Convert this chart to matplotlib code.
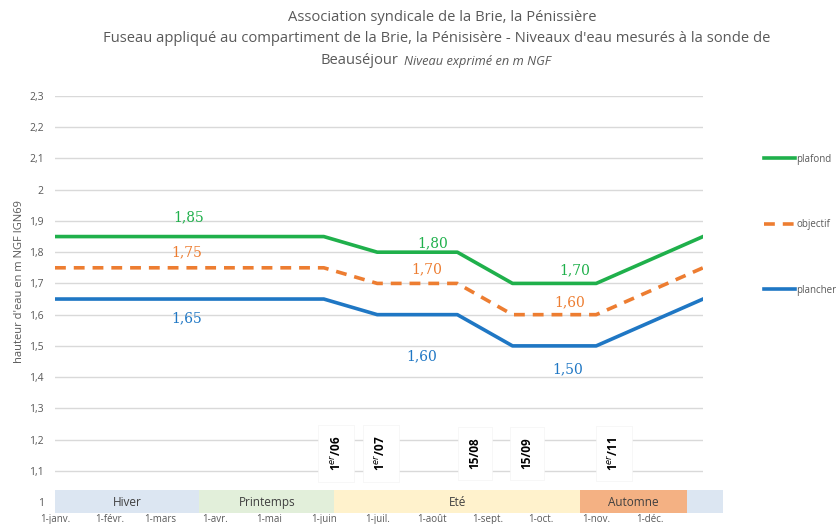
import matplotlib.pyplot as plt
import matplotlib.dates as mdates
from datetime import date

# Points de rupture du fuseau (année type)
dates = [date(2021, 1, 1), date(2021, 6, 1), date(2021, 7, 1), date(2021, 8, 15),
         date(2021, 9, 15), date(2021, 11, 1), date(2021, 12, 31)]
plafond = [1.85, 1.85, 1.80, 1.80, 1.70, 1.70, 1.85]
objectif = [1.75, 1.75, 1.70, 1.70, 1.60, 1.60, 1.75]
plancher = [1.65, 1.65, 1.60, 1.60, 1.50, 1.50, 1.65]

# Etiquettes de valeur : (date, indice du point, décalage vertical en pixels)
etiq_plafond = [(date(2021, 3, 17), 0, 19), (date(2021, 8, 1), 2, 9), (date(2021, 10, 20), 4, 13)]
etiq_objectif = [(date(2021, 3, 16), 0, 16), (date(2021, 7, 29), 2, 14), (date(2021, 10, 17), 4, 12)]
etiq_plancher = [(date(2021, 3, 16), 0, -19), (date(2021, 7, 26), 2, -42), (date(2021, 10, 16), 4, -23)]

# Saisons (bandeau du bas)
saisons = ["Hiver", "Printemps", "Eté", "Automne", ""]
debut_saisons = [date(2021, 1, 1), date(2021, 3, 23), date(2021, 6, 7), date(2021, 10, 23), date(2021, 12, 22)]
fin_saisons = [date(2021, 3, 23), date(2021, 6, 7), date(2021, 10, 23), date(2021, 12, 22), date(2022, 1, 11)]
couleurs_saisons = ["#dce6f2", "#e2efda", "#fff2cc", "#f4b183", "#dce6f2"]

# Dates repères affichées en vertical
reperes = ["1$^{er}$/06", "1$^{er}$/07", "15/08", "15/09", "1$^{er}$/11"]
dates_reperes = [date(2021, 6, 8), date(2021, 7, 3), date(2021, 8, 25), date(2021, 9, 23), date(2021, 11, 11)]

mois = ["1-janv.", "1-févr.", "1-mars", "1-avr.", "1-mai", "1-juin",
        "1-juil.", "1-août", "1-sept.", "1-oct.", "1-nov.", "1-déc."]

gris = "#595959"
vert = "#1fb04b"
orange = "#ed7d31"
bleu = "#1f77c4"

plt.rcParams['font.family'] = ['Open Sans', 'DejaVu Sans']

fig = plt.figure(figsize=(8.36, 5.24), dpi=100)
ax = fig.add_axes([55 / 836, 1 - 513 / 524, 648 / 836, 417 / 524])

ax.plot(dates, plafond, color=vert, lw=2.6, label="plafond", zorder=4)
ax.plot(dates, objectif, color=orange, lw=2.6, ls=(0, (3, 2.2)), label="objectif", zorder=4)
ax.plot(dates, plancher, color=bleu, lw=2.6, label="plancher", zorder=4)

for serie, etiq, c in [(plafond, etiq_plafond, vert), (objectif, etiq_objectif, orange),
                       (plancher, etiq_plancher, bleu)]:
    for d, i, dy in etiq:
        txt = f"{serie[i]:.2f}".replace(".", ",")
        ax.annotate(txt, xy=(d, serie[i]), xytext=(0, dy * 0.72), textcoords="offset points",
                    ha="center", va="center", color=c, fontsize=10, family="DejaVu Serif")

# Bandeau des saisons
for nom, d0, d1, c in zip(saisons, debut_saisons, fin_saisons, couleurs_saisons):
    x0, x1 = mdates.date2num(d0), mdates.date2num(d1)
    ax.add_patch(plt.Rectangle((x0, 0.965), x1 - x0, 0.073, facecolor=c, edgecolor="none",
                               zorder=3, clip_on=False))
    if nom:
        ax.text((x0 + x1) / 2, 1.0, nom, ha="center", va="center", fontsize=8.5,
                color="#404040", zorder=5)

for txt, d in zip(reperes, dates_reperes):
    ax.text(mdates.date2num(d), 1.155, txt, rotation=90, ha="center", va="center",
            fontsize=8.5, fontweight="bold", color="black", zorder=5,
            bbox=dict(boxstyle="square,pad=0.9", facecolor="white", edgecolor="#f4f4f4", lw=0.5))

ax.set_xlim(mdates.date2num(date(2021, 1, 1)), mdates.date2num(date(2021, 12, 31)))
ax.set_ylim(0.965, 2.3)

yt = [1 + 0.1 * k for k in range(14)]
ax.set_yticks(yt)
ax.set_yticklabels([f"{v:.1f}".rstrip("0").rstrip(".").replace(".", ",") for v in yt])
ax.set_xticks([mdates.date2num(date(2021, m, 1)) for m in range(1, 13)])
ax.set_xticklabels(mois)
ax.tick_params(axis="both", length=0, labelsize=7.5, labelcolor=gris)
ax.tick_params(axis="y", pad=8)
ax.tick_params(axis="x", pad=0.5, labelsize=7)

ax.grid(axis="y", color="#d9d9d9", lw=1)
ax.set_axisbelow(True)
for s in ax.spines.values():
    s.set_visible(False)

ax.set_ylabel("hauteur d'eau en m NGF IGN69", fontsize=8, color=gris)
ax.yaxis.set_label_coords(-0.047, 0.555)

fig.text(0.529, 0.967, "Association syndicale de la Brie, la Pénissière",
         ha="center", va="center", fontsize=10.6, color=gris)
fig.text(0.522, 0.927, "Fuseau appliqué au compartiment de la Brie, la Pénisisère - "
         "Niveaux d'eau mesurés à la sonde de", ha="center", va="center", fontsize=10.6, color=gris)
fig.text(0.476, 0.884, "Beauséjour", ha="right", va="center", fontsize=10.6, color=gris)
fig.text(0.483, 0.882, "Niveau exprimé en m NGF", ha="left", va="center", fontsize=9.2,
         style="italic", color=gris)

leg = ax.legend(loc="upper left", bbox_to_anchor=(755 / 836, 1 - 145 / 524),
                bbox_transform=fig.transFigure, frameon=False, fontsize=7,
                labelspacing=5.6, handlelength=3.2, handletextpad=0.15, labelcolor=gris)

fig.savefig("out.png", dpi=100)
